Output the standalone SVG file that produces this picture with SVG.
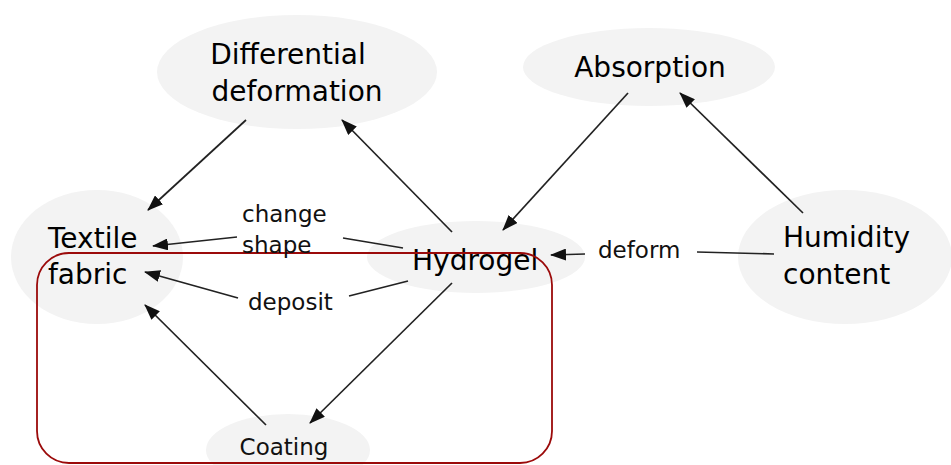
<svg xmlns="http://www.w3.org/2000/svg" width="951" height="465" viewBox="0 0 951 465">
<defs>
<marker id="arr" markerWidth="16" markerHeight="12" refX="15" refY="6" orient="auto" markerUnits="userSpaceOnUse">
<path d="M0,0 L16,6 L0,12 Z" fill="#111"/>
</marker>
<style>
.node ellipse{fill:#f3f3f3;stroke:none}
.lbl{font-family:"DejaVu Sans",Verdana,sans-serif;font-size:28px;fill:#000}
.el{font-family:"DejaVu Sans",Verdana,sans-serif;font-size:23px;fill:#111}
.c line{stroke:#222;stroke-width:1.7;fill:none}
.c .a{marker-end:url(#arr)}
</style>
</defs>
<rect width="951" height="465" fill="#fff"/>
<g id="n-diff" class="node"><ellipse cx="297" cy="72" rx="140" ry="57"/>
<text class="lbl" x="288" y="64" text-anchor="middle">Differential</text>
<text class="lbl" x="297" y="101" text-anchor="middle">deformation</text></g>
<g id="n-abs" class="node"><ellipse cx="649" cy="67" rx="126" ry="39"/>
<text class="lbl" x="650" y="77" text-anchor="middle">Absorption</text></g>
<g id="n-hum" class="node"><ellipse cx="845" cy="257" rx="107" ry="67"/>
<text class="lbl" x="783" y="247">Humidity</text>
<text class="lbl" x="783" y="284">content</text></g>
<g id="n-hyd" class="node"><ellipse cx="476" cy="257" rx="109" ry="36"/>
<text class="lbl" x="412" y="270">Hydrogel</text></g>
<g id="n-tex" class="node"><ellipse cx="97" cy="257" rx="86" ry="67"/>
<text class="lbl" x="48" y="248">Textile</text>
<text class="lbl" x="48" y="284">fabric</text></g>
<g id="n-coat" class="node"><ellipse cx="288" cy="450" rx="82" ry="36"/>
<text class="el" x="284" y="455" text-anchor="middle">Coating</text></g>
<rect id="group" x="37" y="253" width="515" height="210" rx="32" fill="none" stroke="#9b0a0a" stroke-width="1.8"/>
<g id="connectors" class="c">
<line class="a" x1="246" y1="120" x2="148" y2="210"/>
<line class="a" x1="452" y1="232" x2="342" y2="120"/>
<line class="a" x1="628" y1="93" x2="503" y2="230"/>
<line class="a" x1="803" y1="213" x2="680" y2="93"/>
<line x1="774" y1="254" x2="697" y2="252"/>
<line class="a" x1="585" y1="254" x2="551" y2="255"/>
<line x1="403" y1="248" x2="343" y2="238"/>
<line class="a" x1="237" y1="237" x2="153" y2="246"/>
<line x1="408" y1="281" x2="349" y2="296"/>
<line class="a" x1="238" y1="298" x2="145" y2="272"/>
<line class="a" x1="452" y1="283" x2="310" y2="423"/>
<line class="a" x1="266" y1="425" x2="145" y2="305"/>
</g>
<g id="edge-labels">
<text class="el" x="242" y="222">change</text>
<text class="el" x="242" y="253">shape</text>
<text class="el" x="248" y="310">deposit</text>
<text class="el" x="598" y="258">deform</text>
</g>
</svg>
